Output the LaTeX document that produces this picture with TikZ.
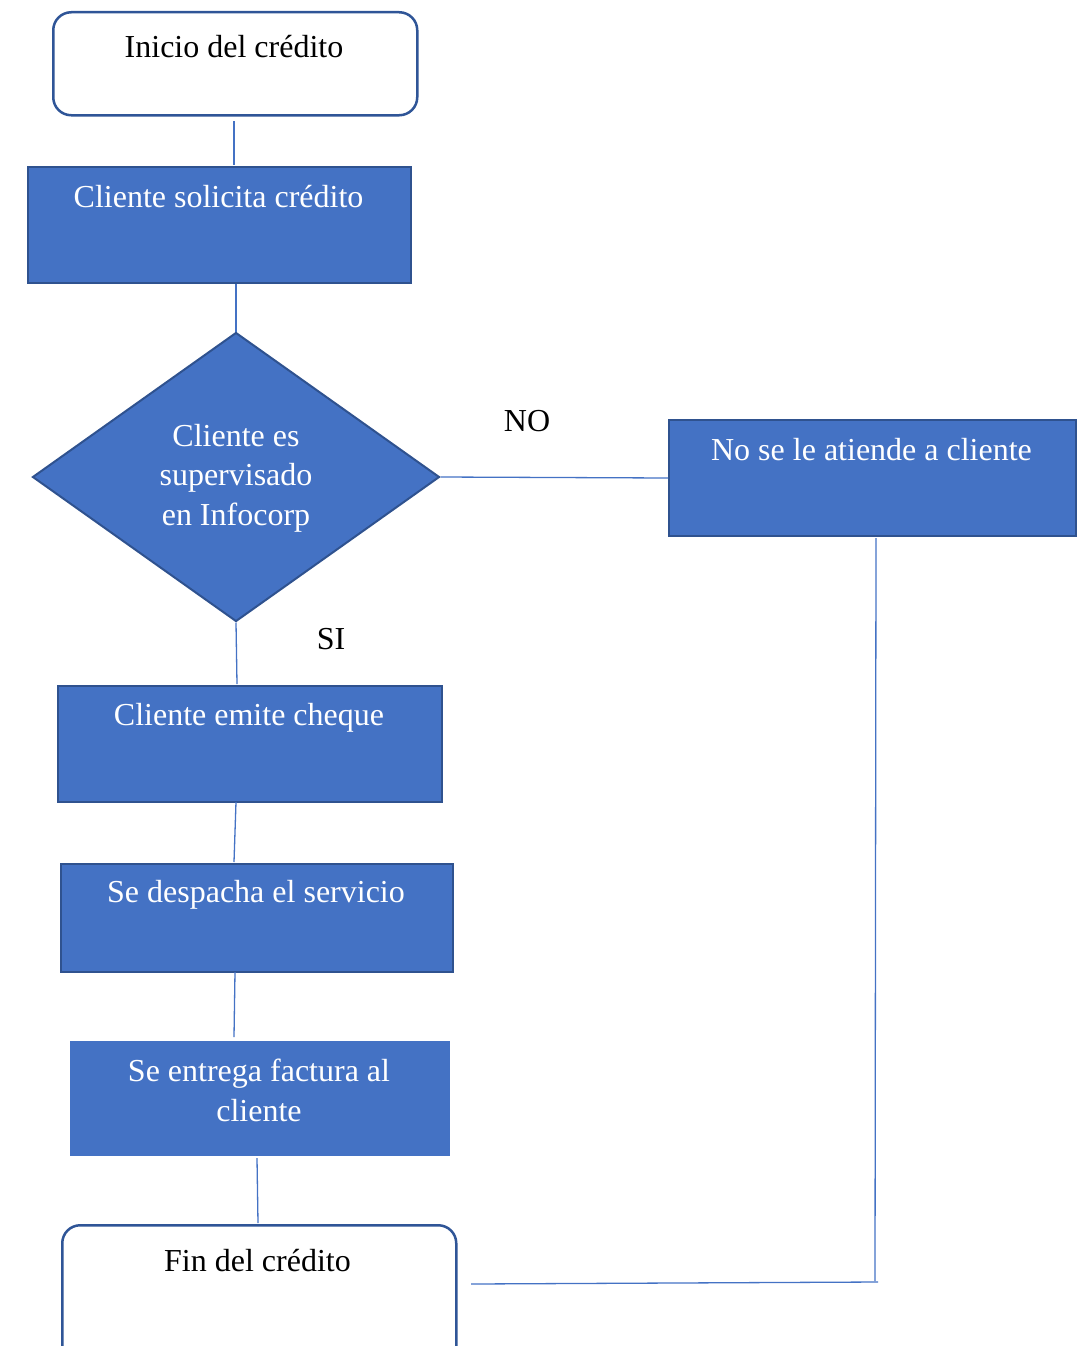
\documentclass[tikz,border=0pt]{standalone}
\usepackage{fontspec}
\setmainfont{Liberation Serif}
\usetikzlibrary{shapes.geometric}
\definecolor{boxblue}{HTML}{4472C4}
\definecolor{edgeblue}{HTML}{2F528F}
\definecolor{termedge}{HTML}{2F5597}
\begin{document}
\begin{tikzpicture}[x=1pt,y=-1pt,
  txt/.style={font=\fontsize{32}{39.5}\selectfont, align=center, inner sep=0pt, anchor=base},
  proc/.style={draw=edgeblue, line width=2pt, fill=boxblue, inner sep=0pt, anchor=north west},
  term/.style={draw=termedge, line width=2.5pt, fill=white, rounded corners=18pt, inner sep=0pt, anchor=north west},
  link/.style={draw=boxblue, line width=1.3pt}
]
\useasboundingbox (0,0) rectangle (1083,1346);
\clip (0,0) rectangle (1083,1346);

% boxes
\node[term, minimum width=364pt, minimum height=103pt] (inicio) at (52,11) {};
\node[proc, minimum width=383pt, minimum height=116pt] (solicita) at (27,166) {};
\node[diamond, draw=edgeblue, line width=2pt, fill=boxblue, inner sep=0pt,
      minimum width=407pt, minimum height=289pt] (decide) at (236,477) {};
\node[proc, minimum width=407pt, minimum height=116pt] (rechazo) at (668,419) {};
\node[proc, minimum width=384pt, minimum height=116pt] (cheque) at (57,685) {};
\node[proc, minimum width=392pt, minimum height=108pt] (despacho) at (60,863) {};
\node[proc, draw=none, minimum width=380pt, minimum height=115pt] (factura) at (69,1040) {};
\node[term, minimum width=394pt, minimum height=150pt] (fin) at (61,1224) {};

% texts (placed by the baseline of their last line)
\node[txt] (tinicio) at (234,57) {Inicio del crédito};
\node[txt, text=white] (tsolicita) at (218.5,207) {Cliente solicita crédito};
\node[txt, text=white] (tdecide) at (236,525) {Cliente es\\supervisado\\en Infocorp};
\node[txt, text=white] (trechazo) at (871.5,460) {No se le atiende a cliente};
\node[txt, text=white] (tcheque) at (249,725) {Cliente emite cheque};
\node[txt, text=white] (tdespacho) at (256,902) {Se despacha el servicio};
\node[txt, text=white] (tfactura) at (259,1121) {Se entrega factura al\\cliente};
\node[txt] (tfin) at (257.5,1271) {Fin del crédito};
\node[txt] (lno) at (527,431) {NO};
\node[txt] (lsi) at (331,649) {SI};

% connectors
\coordinate (c1) at (234,121);
\coordinate (c2) at (234,165);
\draw[link] (c1) -- (c2);
\draw[link] (solicita.south -| decide.north) -- (decide.north);
\draw[link] (decide.east) -- (rechazo.west);
\draw[link] (decide.south) -- (237,684);
\draw[link] (236,802) -- (234,862);
\draw[link] (235,972) -- (234,1037);
\draw[link] (257,1158) -- (258,1223);
\coordinate (r1) at (876,538);
\coordinate (r2) at (875,1281);
\coordinate (r3) at (878,1282);
\coordinate (f1) at (471,1284);
\draw[link] (r1) -- (r2);
\draw[link] (f1) -- (r3);
\end{tikzpicture}
\end{document}
